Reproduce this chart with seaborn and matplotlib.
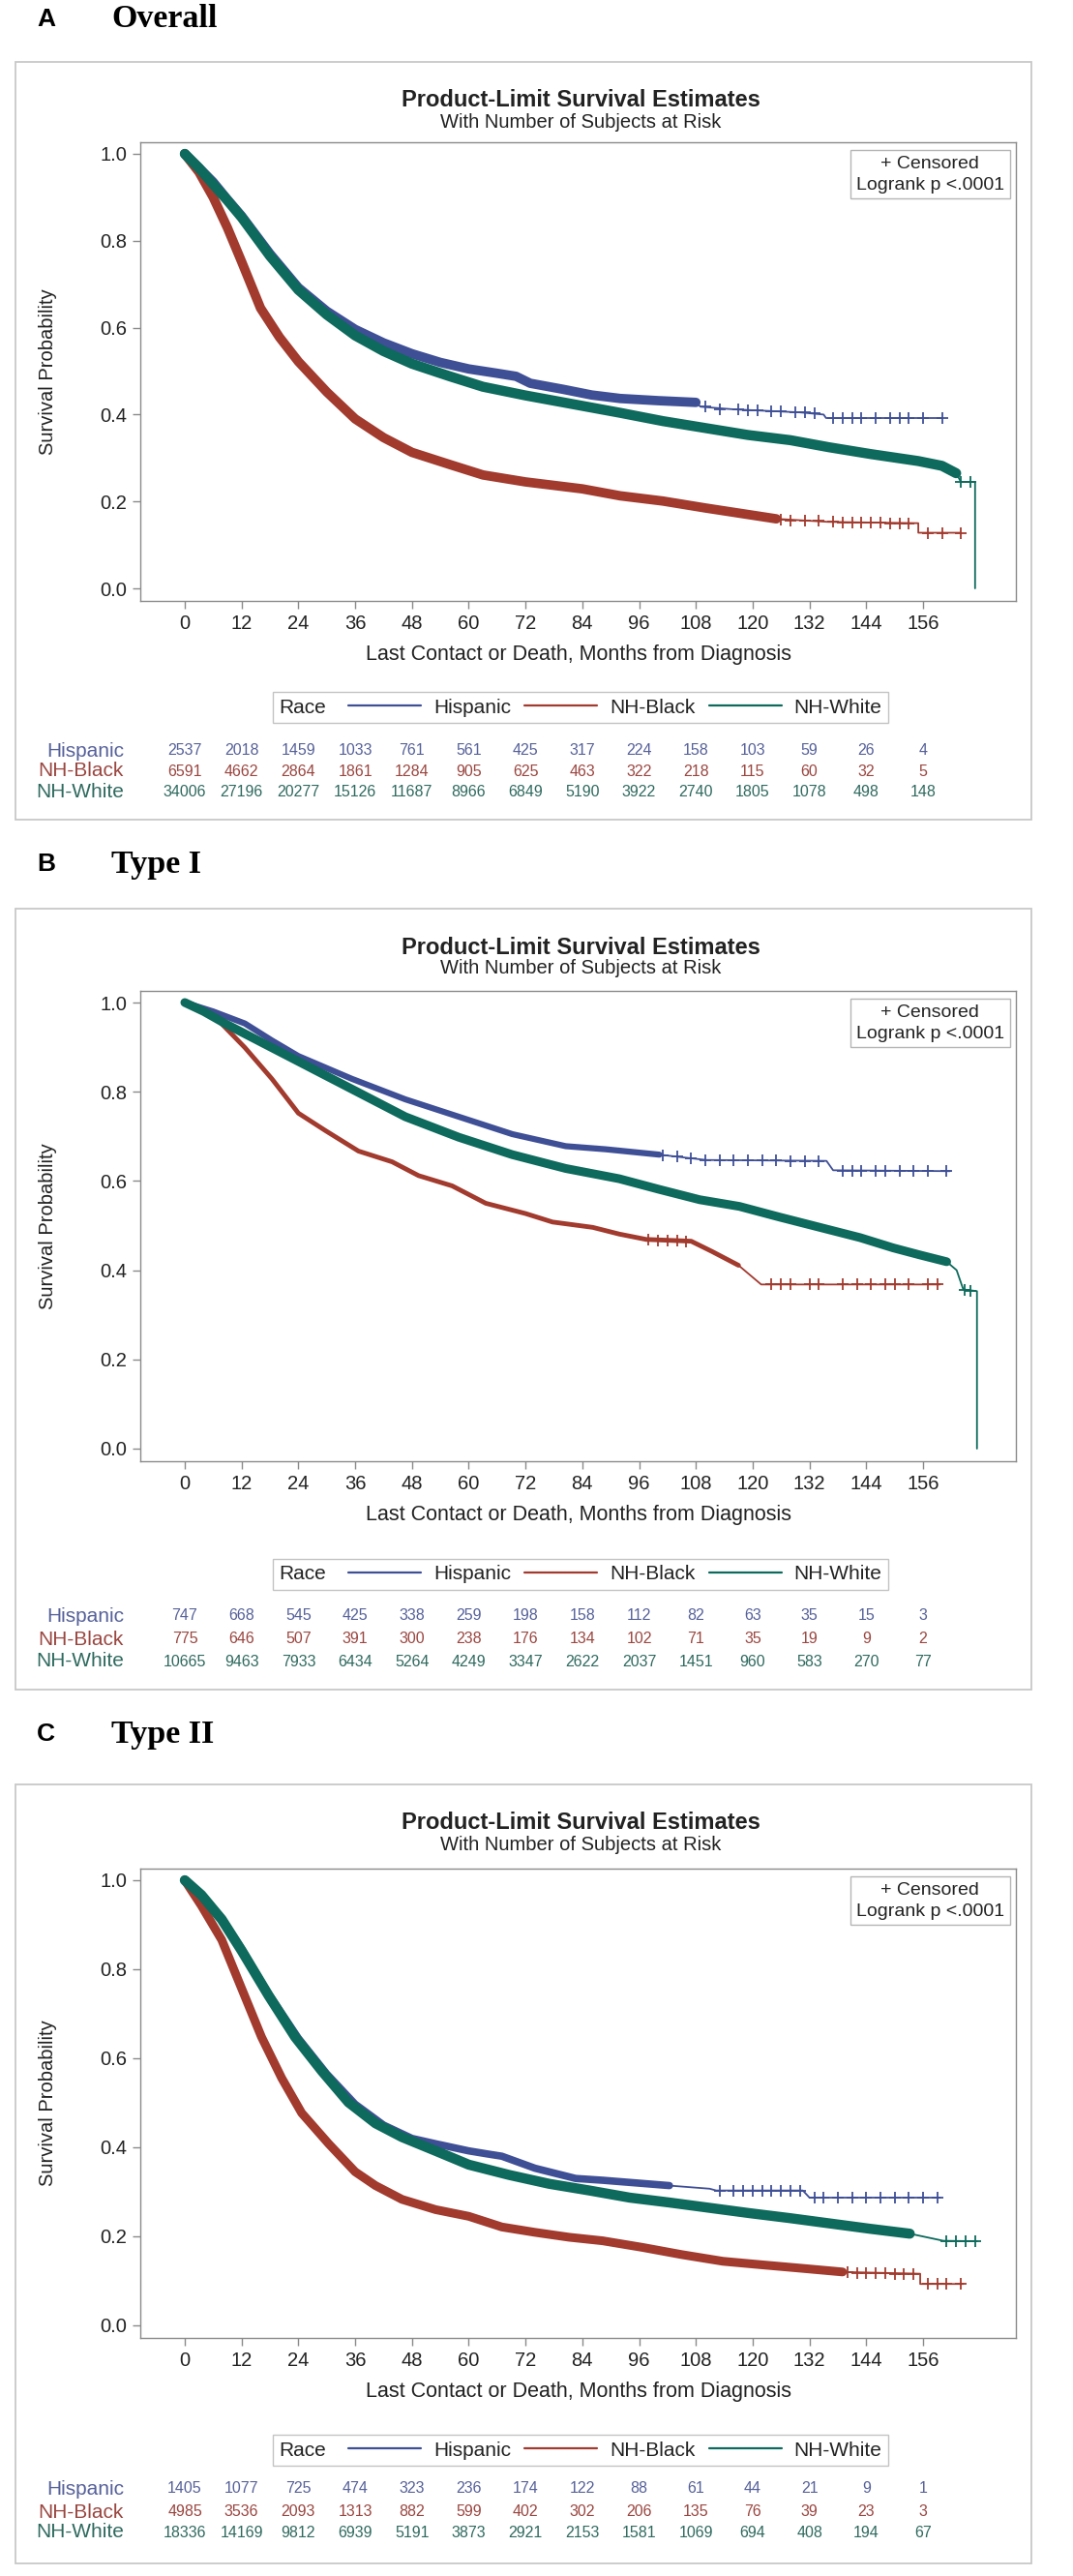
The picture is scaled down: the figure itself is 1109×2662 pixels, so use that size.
import numpy as np
import matplotlib
matplotlib.use("Agg")
import matplotlib.pyplot as plt
import matplotlib.transforms as mtransforms
from matplotlib.lines import Line2D
from matplotlib.patches import Rectangle
from matplotlib.offsetbox import HPacker
import seaborn as sns

W, H = 1109, 2662

races = ["Hispanic", "NH-Black", "NH-White"]
line_colors = ["#3f4f96", "#a23a2e", "#0d6a5c"]
text_colors = ["#56619a", "#9a4640", "#2f6a5e"]
risk_months = [0, 12, 24, 36, 48, 60, 72, 84, 96, 108, 120, 132, 144, 156]

# ---------------- A: Overall ----------------
a_hisp_t = [0, 3, 6, 9, 12, 18, 24, 30, 36, 42, 48, 54, 60, 66, 70, 73, 80, 86, 92, 100, 108, 109, 116, 130, 135, 135.5, 160]
a_hisp_s = [1.0, 0.968, 0.935, 0.895, 0.857, 0.77, 0.692, 0.638, 0.596, 0.565, 0.54, 0.52, 0.505, 0.495, 0.488, 0.472,
            0.458, 0.445, 0.437, 0.432, 0.428, 0.418, 0.412, 0.405, 0.400, 0.392, 0.392]
a_black_t = [0, 3, 6, 9, 12, 16, 20, 24, 30, 36, 42, 48, 56, 63, 72, 84, 92, 101, 110, 119, 125, 136, 155, 155, 164]
a_black_s = [1.0, 0.958, 0.90, 0.83, 0.752, 0.645, 0.578, 0.522, 0.452, 0.39, 0.347, 0.313, 0.285, 0.261, 0.245,
             0.229, 0.213, 0.201, 0.185, 0.170, 0.160, 0.153, 0.150, 0.128, 0.128]
a_white_t = [0, 3, 6, 9, 12, 18, 24, 30, 36, 42, 48, 56, 63, 72, 84, 92, 101, 110, 119, 128, 136, 145, 155, 160, 163,
             164, 167, 167]
a_white_s = [1.0, 0.967, 0.93, 0.893, 0.854, 0.765, 0.687, 0.630, 0.582, 0.546, 0.517, 0.488, 0.464, 0.444, 0.42,
             0.404, 0.385, 0.369, 0.353, 0.341, 0.325, 0.309, 0.293, 0.282, 0.265, 0.245, 0.245, 0.0]
a_hisp_cens_t = [110, 113, 117, 119, 121, 124, 126, 129, 131, 133, 137, 139, 141, 143, 146, 149, 151, 153, 156, 160]
a_hisp_cens_s = [0.418, 0.412, 0.412, 0.41, 0.41, 0.408, 0.407, 0.406, 0.405, 0.404, 0.392, 0.392, 0.392, 0.392,
                 0.392, 0.392, 0.392, 0.392, 0.392, 0.392]
a_black_cens_t = [126, 128, 131, 134, 137, 139, 141, 143, 145, 147, 149, 151, 153, 157, 160, 164]
a_black_cens_s = [0.159, 0.157, 0.156, 0.155, 0.153, 0.152, 0.152, 0.151, 0.151, 0.151, 0.150, 0.150, 0.150,
                  0.128, 0.128, 0.128]
a_white_cens_t = [164, 166]
a_white_cens_s = [0.245, 0.245]
a_risk_hisp = [2537, 2018, 1459, 1033, 761, 561, 425, 317, 224, 158, 103, 59, 26, 4]
a_risk_black = [6591, 4662, 2864, 1861, 1284, 905, 625, 463, 322, 218, 115, 60, 32, 5]
a_risk_white = [34006, 27196, 20277, 15126, 11687, 8966, 6849, 5190, 3922, 2740, 1805, 1078, 498, 148]

# ---------------- B: Type I ----------------
b_hisp_t = [0, 6, 12.7, 18.4, 24, 35.3, 46.6, 57.9, 69.2, 80.5, 89, 100.3, 110.2, 135.6, 137, 161.7]
b_hisp_s = [1.0, 0.98, 0.953, 0.915, 0.88, 0.829, 0.783, 0.744, 0.705, 0.678, 0.671, 0.659, 0.647, 0.645, 0.624, 0.622]
b_black_t = [0, 3, 7, 12.7, 18.4, 24, 29.7, 36.7, 43.8, 49.4, 56.5, 63.6, 72, 77.7, 86.2, 91.8, 97.5, 107, 111.4,
             117, 121.8, 159.6]
b_black_s = [1.0, 0.985, 0.961, 0.899, 0.829, 0.752, 0.713, 0.667, 0.643, 0.612, 0.589, 0.55, 0.527, 0.508, 0.496,
             0.481, 0.469, 0.465, 0.442, 0.411, 0.368, 0.368]
b_white_t = [0, 4, 8.5, 12.7, 24, 35.3, 46.6, 57.9, 69.2, 80.5, 91.8, 100.3, 108.8, 117.2, 125.7, 134.2, 142.7, 149.7,
             155.4, 161, 163.1, 164.5, 167.4, 167.4]
b_white_s = [1.0, 0.98, 0.953, 0.93, 0.868, 0.806, 0.744, 0.698, 0.659, 0.628, 0.605, 0.581, 0.558, 0.543, 0.519,
             0.496, 0.473, 0.45, 0.434, 0.419, 0.40, 0.357, 0.353, 0.0]
b_hisp_cens_t = [101, 104, 107, 110, 113, 116, 119, 122, 125, 128, 131, 134, 139, 141, 143, 146, 148, 151, 154, 157, 161]
b_hisp_cens_s = [0.658, 0.655, 0.651, 0.647, 0.647, 0.647, 0.646, 0.646, 0.646, 0.645, 0.645, 0.645, 0.623, 0.623,
                 0.623, 0.623, 0.623, 0.622, 0.622, 0.622, 0.622]
b_black_cens_t = [98, 100, 102, 104, 106, 124, 126, 128, 132, 134, 139, 142, 145, 148, 150, 153, 157, 159]
b_black_cens_s = [0.468, 0.467, 0.466, 0.466, 0.465, 0.368, 0.368, 0.368, 0.368, 0.368, 0.368, 0.368, 0.368, 0.368,
                  0.368, 0.368, 0.368, 0.368]
b_white_cens_t = [164.8, 166]
b_white_cens_s = [0.355, 0.354]
b_risk_hisp = [747, 668, 545, 425, 338, 259, 198, 158, 112, 82, 63, 35, 15, 3]
b_risk_black = [775, 646, 507, 391, 300, 238, 176, 134, 102, 71, 35, 19, 9, 2]
b_risk_white = [10665, 9463, 7933, 6434, 5264, 4249, 3347, 2622, 2037, 1451, 960, 583, 270, 77]

# ---------------- C: Type II ----------------
c_hisp_t = [0, 3.5, 7.8, 12, 17.7, 24, 30, 36, 42, 48, 53, 60, 64, 67, 74, 82.6, 88.3, 102.4, 110.9, 112.3, 130.6,
            132, 159.6]
c_hisp_s = [1.0, 0.968, 0.915, 0.846, 0.745, 0.645, 0.565, 0.497, 0.45, 0.42, 0.408, 0.392, 0.385, 0.38, 0.353, 0.33,
            0.326, 0.314, 0.307, 0.303, 0.303, 0.287, 0.287]
c_black_t = [0, 3.5, 7.8, 12, 16.2, 20.5, 24.7, 30.4, 36, 40.3, 45.9, 53, 60, 67, 74, 81.2, 88.3, 96.8, 105, 113.7,
             122, 130.6, 139, 155.4, 155.4, 164.5]
c_black_s = [1.0, 0.943, 0.866, 0.757, 0.648, 0.555, 0.477, 0.408, 0.345, 0.314, 0.283, 0.26, 0.245, 0.221, 0.209,
             0.198, 0.19, 0.175, 0.159, 0.144, 0.136, 0.128, 0.12, 0.116, 0.093, 0.093]
c_white_t = [0, 3.5, 7.8, 12, 17.7, 23.3, 29, 34.6, 40.3, 45.9, 53, 60, 68.5, 77, 85.5, 94, 102.4, 110.9, 119.4,
             127.8, 136.3, 144.8, 153.2, 160.3, 167.4]
c_white_s = [1.0, 0.967, 0.912, 0.842, 0.741, 0.648, 0.571, 0.501, 0.454, 0.423, 0.392, 0.361, 0.338, 0.318, 0.303,
             0.287, 0.276, 0.264, 0.252, 0.241, 0.229, 0.217, 0.206, 0.19, 0.189]
c_hisp_cens_t = [113, 116, 118, 120, 122, 124, 126, 128, 130, 133, 135, 138, 141, 144, 147, 150, 153, 156, 159]
c_hisp_cens_s = [0.303] * 9 + [0.287] * 10
c_black_cens_t = [140, 142, 144, 146, 148, 150, 152, 154, 157, 159, 161, 164]
c_black_cens_s = [0.119, 0.118, 0.118, 0.117, 0.117, 0.116, 0.116, 0.116, 0.093, 0.093, 0.093, 0.093]
c_white_cens_t = [161, 163, 165, 167]
c_white_cens_s = [0.19, 0.189, 0.189, 0.189]
c_risk_hisp = [1405, 1077, 725, 474, 323, 236, 174, 122, 88, 61, 44, 21, 9, 1]
c_risk_black = [4985, 3536, 2093, 1313, 882, 599, 402, 302, 206, 135, 76, 39, 23, 3]
c_risk_white = [18336, 14169, 9812, 6939, 5191, 3873, 2921, 2153, 1581, 1069, 694, 408, 194, 67]

panels = [
    dict(letter="A", name="Overall",
         curves=[(a_hisp_t, a_hisp_s), (a_black_t, a_black_s), (a_white_t, a_white_s)],
         cens=[(a_hisp_cens_t, a_hisp_cens_s), (a_black_cens_t, a_black_cens_s), (a_white_cens_t, a_white_cens_s)],
         risk=[a_risk_hisp, a_risk_black, a_risk_white],
         dense=[(108, 7), (125, 7), (163, 7.5)],
         label_y=20, box_top=64, box_bot=847, y_one=159, y_zero=608, legend_y=731, rows=[776, 797, 819]),
    dict(letter="B", name="Type I",
         curves=[(b_hisp_t, b_hisp_s), (b_black_t, b_black_s), (b_white_t, b_white_s)],
         cens=[(b_hisp_cens_t, b_hisp_cens_s), (b_black_cens_t, b_black_cens_s), (b_white_cens_t, b_white_cens_s)],
         risk=[b_risk_hisp, b_risk_black, b_risk_white],
         dense=[(110, 4.5), (118, 3.5), (163, 6.5)],
         label_y=893, box_top=939, box_bot=1746, y_one=1036, y_zero=1497, legend_y=1627, rows=[1670, 1694, 1717]),
    dict(letter="C", name="Type II",
         curves=[(c_hisp_t, c_hisp_s), (c_black_t, c_black_s), (c_white_t, c_white_s)],
         cens=[(c_hisp_cens_t, c_hisp_cens_s), (c_black_cens_t, c_black_cens_s), (c_white_cens_t, c_white_cens_s)],
         risk=[c_risk_hisp, c_risk_black, c_risk_white],
         dense=[(110, 5.5), (139, 6.5), (160, 7.5)],
         label_y=1792, box_top=1844, box_bot=2649, y_one=1943, y_zero=2403, legend_y=2532, rows=[2572, 2596, 2617]),
]

sns.set_style("white")
plt.rcParams["font.family"] = ["Liberation Sans", "DejaVu Sans"]

AX_L, AX_R = 145, 1050
T0_PX, PX_PER_MONTH = 191, (954 - 191) / 156
GRAY = "#8a8a8a"
TXT = "#222222"


def fx(x):
    return x / W


def fy(y):
    return 1 - y / H


fig = plt.figure(figsize=(W / 100, H / 100), dpi=100)
fig.patch.set_facecolor("white")

for p in panels:
    ax_top = p["y_one"] - 12
    ax_bot = p["y_zero"] + 13
    ax = fig.add_axes([fx(AX_L), fy(ax_bot), (AX_R - AX_L) / W, (ax_bot - ax_top) / H])

    # outer panel frame
    fig.patches.append(Rectangle((fx(16), fy(p["box_bot"])), (1066 - 16) / W, (p["box_bot"] - p["box_top"]) / H,
                                 transform=fig.transFigure, fill=False, ec="#c8c8c8", lw=1.3))
    fig.text(fx(38), fy(p["label_y"]), p["letter"], fontsize=19, fontweight="bold", va="center", ha="left",
             color="black")
    fig.text(fx(115), fy(p["label_y"]), p["name"], fontsize=24.5, fontweight="bold", va="center", ha="left",
             family=["Liberation Serif", "DejaVu Serif"], color="black")
    fig.text(fx(600), fy(p["box_top"] + 40), "Product-Limit Survival Estimates", fontsize=17, fontweight="bold",
             ha="center", va="center", color=TXT)
    fig.text(fx(600), fy(p["box_top"] + 62), "With Number of Subjects at Risk", fontsize=14.5,
             ha="center", va="center", color=TXT)

    for (t, s), (tc, sc), (dense_end, band), col in zip(p["curves"], p["cens"], p["dense"], line_colors):
        t = np.asarray(t)
        s = np.asarray(s)
        sns.lineplot(x=t, y=s, ax=ax, color=col, lw=1.3, estimator=None, sort=False, legend=False)
        keep = t <= dense_end
        sns.lineplot(x=t[keep], y=s[keep], ax=ax, color=col, lw=band, estimator=None, sort=False, legend=False,
                     solid_capstyle="round")
        ax.plot(tc, sc, ls="none", marker="+", ms=8, mew=1.3, color=col)

    span = p["y_zero"] - p["y_one"]
    ax.set_ylim(-(ax_bot - p["y_zero"]) / span, 1 + (p["y_one"] - ax_top) / span)
    ax.set_xlim((AX_L - T0_PX) / PX_PER_MONTH, (AX_R - T0_PX) / PX_PER_MONTH)
    ax.set_xticks(risk_months)
    ax.set_yticks([0.0, 0.2, 0.4, 0.6, 0.8, 1.0])
    ax.set_yticklabels(["0.0", "0.2", "0.4", "0.6", "0.8", "1.0"])
    ax.tick_params(axis="both", direction="out", length=6, width=1, color=GRAY, labelsize=14.5,
                   labelcolor=TXT, pad=4, bottom=True, left=True)
    for sp in ax.spines.values():
        sp.set_color(GRAY)
        sp.set_linewidth(1.0)
    ax.set_xlabel("Last Contact or Death, Months from Diagnosis", fontsize=15.5, color=TXT, labelpad=9)
    ax.set_ylabel("")
    fig.text(fx(50), fy((ax_top + ax_bot) / 2), "Survival Probability", rotation=90, fontsize=14.5,
             ha="center", va="center", color=TXT)

    ax.text(1 - 12 / (AX_R - AX_L), 1 - 14 / (ax_bot - ax_top), "+ Censored\nLogrank p <.0001",
            transform=ax.transAxes, ha="right", va="top", multialignment="center", fontsize=14, color=TXT,
            linespacing=1.35,
            bbox=dict(boxstyle="square,pad=0.3", fc="white", ec="#b5b5b5", lw=1.0))

    # legend with "Race" on the left
    handles = [Line2D([], [], color=c, lw=1.6) for c in line_colors]
    leg = fig.legend(handles, races, loc="center", bbox_to_anchor=(fx(600), fy(p["legend_y"])), ncol=3,
                     title="Race", fontsize=15, title_fontsize=15, handlelength=3.6, columnspacing=0.7,
                     handletextpad=0.6, borderpad=0.3, fancybox=False, frameon=True, edgecolor="#b5b5b5")
    leg.get_frame().set_linewidth(1.0)
    for txt in leg.get_texts():
        txt.set_color(TXT)
    leg.get_title().set_color(TXT)
    fs = leg._fontsize
    box = HPacker(pad=leg.borderpad * fs, sep=1.1 * fs, align="center",
                  children=[leg._legend_title_box, leg._legend_handle_box])
    box.set_figure(fig)
    box.set_offset(leg._findoffset)
    leg._legend_box = box

    # number at risk table
    blend = mtransforms.blended_transform_factory(ax.transData, fig.transFigure)
    for race, counts, ry, tcol in zip(races, p["risk"], p["rows"], text_colors):
        fig.text(fx(128), fy(ry), race, ha="right", va="center", fontsize=15, color=tcol)
        for m, n in zip(risk_months, counts):
            ax.text(m, fy(ry), str(n), transform=blend, ha="center", va="center", fontsize=11.5, color=tcol)

fig.savefig("out.png", dpi=100, facecolor="white")
